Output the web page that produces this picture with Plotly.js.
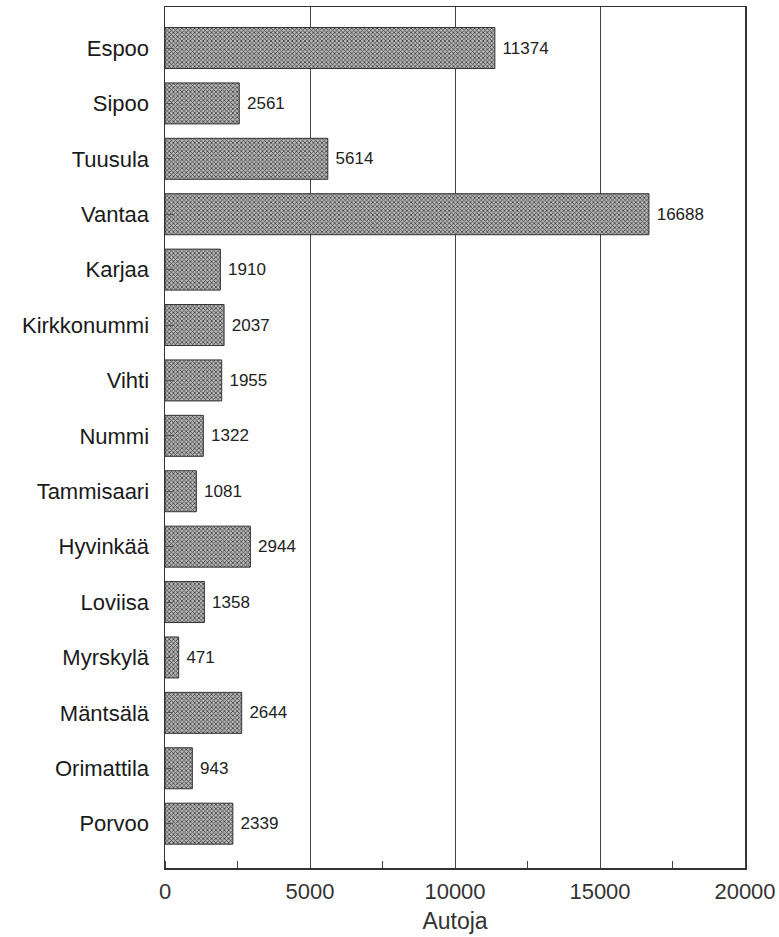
<!DOCTYPE html>
<html>
<head>
<meta charset="utf-8">
<script src="https://cdn.plot.ly/plotly-3.0.1.min.js"></script>
<style>html,body{margin:0;padding:0;background:#fff;}#chart{width:779px;height:937px;}</style>
</head>
<body>
<div id="chart"></div>
<script>
const kunnat = ["Espoo","Sipoo","Tuusula","Vantaa","Karjaa","Kirkkonummi","Vihti","Nummi","Tammisaari","Hyvinkää","Loviisa","Myrskylä","Mäntsälä","Orimattila","Porvoo"];
const autoja = [11374,2561,5614,16688,1910,2037,1955,1322,1081,2944,1358,471,2644,943,2339];
const xTicks = [0,5000,10000,15000,20000];

const font = "Liberation Sans, Arial, Helvetica, sans-serif";

const trace = {
  type: "bar",
  orientation: "h",
  x: autoja,
  y: kunnat,
  width: 0.74,
  text: autoja.map(String),
  texttemplate: "\u00a0%{text}",
  textposition: "outside",
  cliponaxis: false,
  textfont: {family: font, size: 17, color: "#222"},
  marker: {
    color: "#a0a0a0",
    line: {color: "#333", width: 1},
    pattern: {shape: "x", fgcolor: "#3a3a3a", bgcolor: "#b8b8b8", size: 3, solidity: 0.45}
  },
  hoverinfo: "skip"
};

const layout = {
  width: 779, height: 937,
  margin: {l: 165, r: 34, t: 7, b: 69},
  paper_bgcolor: "#fff", plot_bgcolor: "#fff",
  showlegend: false,
  font: {family: font, color: "#222"},
  xaxis: {
    range: [0, 20000],
    tickvals: xTicks,
    ticktext: xTicks.map(String),
    tickfont: {family: font, size: 22, color: "#333"},
    ticklabelstandoff: 3,
    showgrid: true, gridcolor: "#444", gridwidth: 1,
    zeroline: false,
    showline: true, linecolor: "#333", linewidth: 1.5, mirror: true,
    ticks: "",
    minor: {dtick: 2500, tick0: 0, ticks: "inside", ticklen: 7, tickcolor: "#444", showgrid: false},
    title: {text: "Autoja", font: {family: font, size: 23, color: "#333"}, standoff: 10},
    automargin: false,
    fixedrange: true
  },
  yaxis: {
    type: "category",
    range: [14.8, -0.74],
    tickfont: {family: font, size: 22, color: "#1a1a1a"},
    ticks: "inside", ticklen: 8, tickcolor: "#555",
    ticklabelstandoff: 10,
    showgrid: false, zeroline: false,
    showline: true, linecolor: "#333", linewidth: 1.5, mirror: true,
    automargin: false,
    fixedrange: true
  }
};

Plotly.newPlot("chart", [trace], layout, {staticPlot: true, displayModeBar: false});
</script>
</body>
</html>
